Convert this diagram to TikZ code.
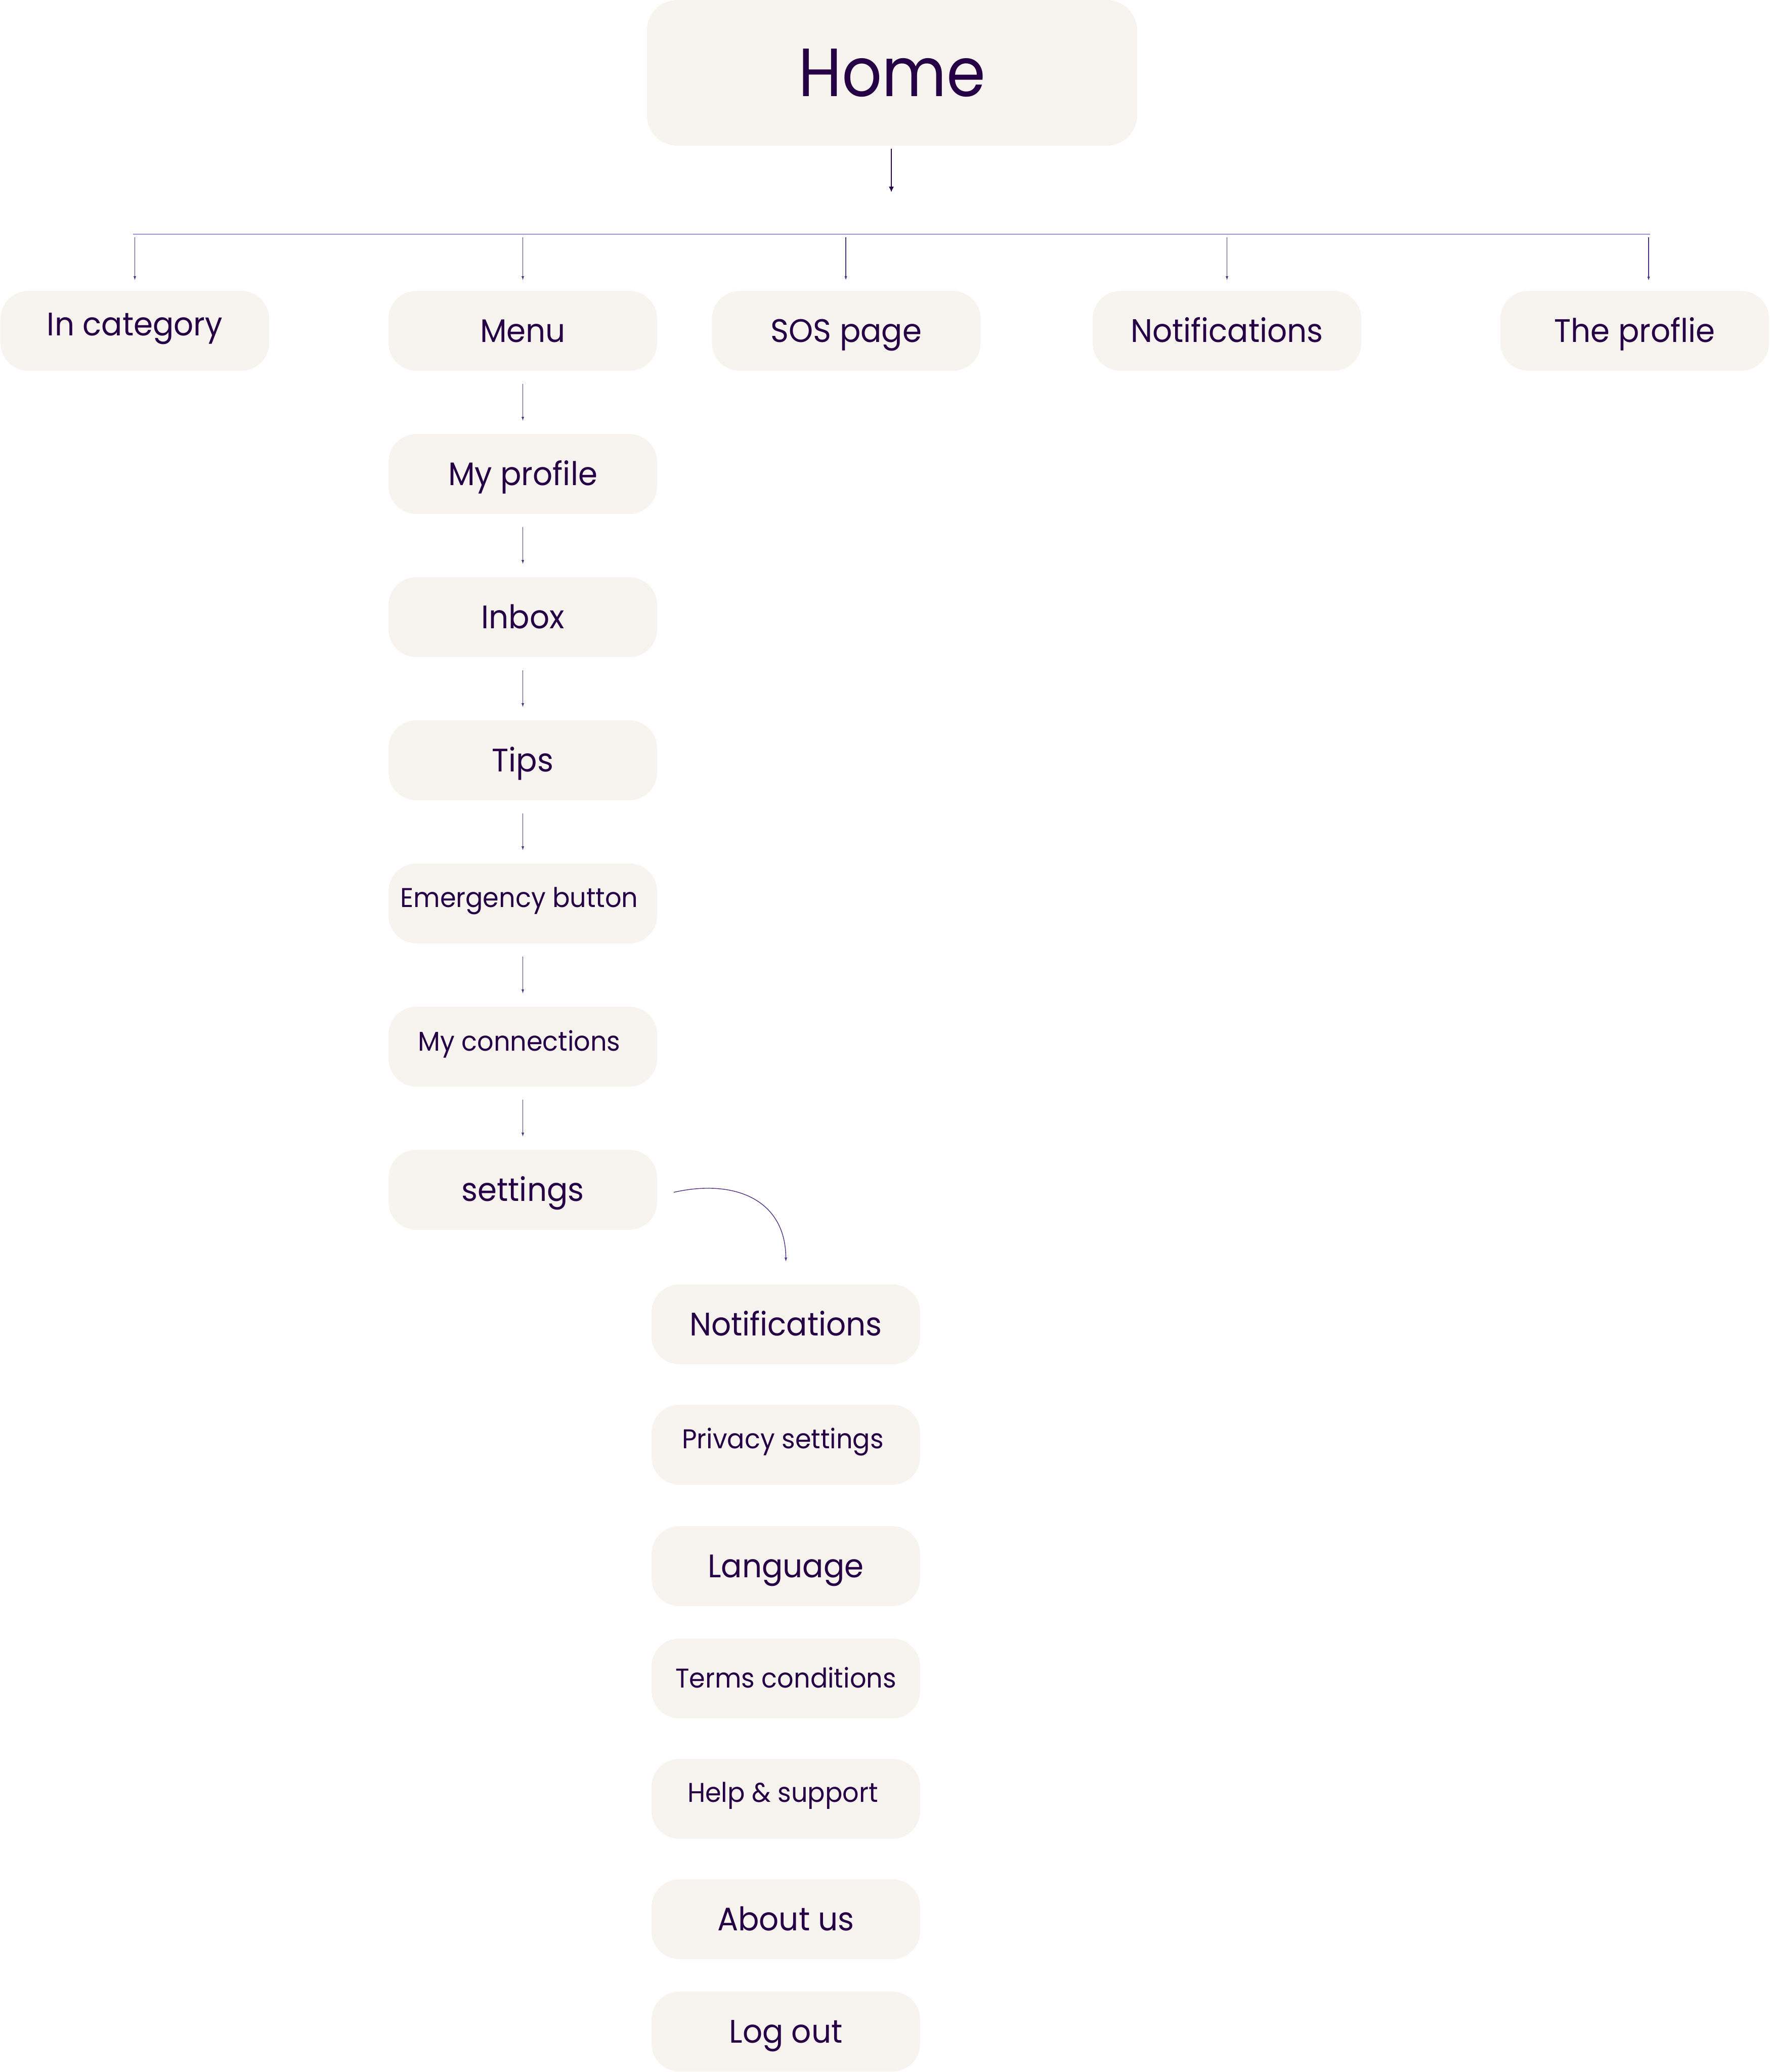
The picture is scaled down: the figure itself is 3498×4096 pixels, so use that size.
\documentclass[tikz,border=0pt]{standalone}
\usepackage{fontspec}
\usetikzlibrary{arrows.meta,calc}
\newfontfamily\pop[FakeStretch=0.95]{Poppins}
\newfontfamily\pophome[FakeStretch=0.92]{Poppins}
\definecolor{ink}{HTML}{250045}
\definecolor{boxfill}{HTML}{F7F4F0}
\definecolor{busline}{HTML}{A390D3}
\definecolor{dropline}{HTML}{4E3184}
\newcommand{\bigtxt}{\pop\fontsize{16.1pt}{19pt}\selectfont}
\newcommand{\smalltxt}{\pop\fontsize{13.4pt}{16pt}\selectfont}
\newcommand{\hometxt}{\pophome\fontsize{33.7pt}{40pt}\selectfont}
\newcommand{\up}[2]{\raisebox{#1}{#2}}
\tikzset{
  box/.style={fill=boxfill, rounded corners=13.75pt, minimum width=132.75pt,
    minimum height=39.5pt, inner sep=0pt, text=ink, font=\bigtxt,
    text height=11.25pt, text depth=0pt},
  smallbox/.style={box, font=\smalltxt, text height=9.4pt},
  homebox/.style={fill=boxfill, rounded corners=15pt, minimum width=242.25pt,
    minimum height=72pt, inner sep=0pt, text=ink, font=\hometxt,
    text height=23.5pt, text depth=0pt},
  drop/.style={draw=dropline, line width=0.35pt, -{Latex[length=2pt,width=1.3pt]}},
  bus/.style={draw=busline, line width=0.55pt},
  homearrow/.style={draw=ink, line width=0.7pt, -{Latex[length=2.8pt,width=2.6pt]}}
}
\begin{document}
\begin{tikzpicture}[x=0.25pt, y=-0.25pt]
\useasboundingbox (0,0) rectangle (3498,4096);

% Home
\node[homebox] (home) at (1763.5,144) {Home};
\coordinate (homeend) at (1762,380);
\draw[homearrow] ($(home.south)+(-1.5,5)$) -- (homeend);

% bus line
\coordinate (busL) at (263,463);
\coordinate (busR) at (3262,463);
\draw[bus] (busL) -- (busR);

% row 2
\node[box] (cat) at (266.5,654) {\up{3.25pt}{In category}};
\node[box] (menu) at (1033.5,654) {Menu};
\node[box] (sos) at (1673,654) {SOS page};
\node[box] (notif) at (2425.5,654) {Notifications};
\node[box] (prof) at (3231.5,654) {The proflie};
\coordinate (profdrop) at (3259,555);

\draw[drop] ($(cat.north |- busL)+(0,6)$) -- ($(cat.north)+(0,-20)$);
\draw[drop] ($(menu.north |- busL)+(0,6)$) -- ($(menu.north)+(0,-20)$);
\draw[drop] ($(sos.north |- busL)+(-1,6)$) -- ($(sos.north)+(-1,-20)$);
\draw[drop] ($(notif.north |- busL)+(0,6)$) -- ($(notif.north)+(0,-20)$);
\draw[drop] ($(profdrop |- busL)+(0,6)$) -- (profdrop);

% menu column
\node[box] (myprof) at (1033.5,937) {My profile};
\node[box] (inbox) at (1033.5,1220) {Inbox};
\node[box] (tips) at (1033.5,1503) {Tips};
\node[smallbox] (emerg) at (1033.5,1786) {\up{2.75pt}{Emergency button}\kern3.5pt};
\node[smallbox] (conn) at (1033.5,2069) {\up{2.5pt}{My connections}\kern3.5pt};
\node[box] (settings) at (1033.5,2352) {settings};

\foreach \a/\b in {menu/myprof, myprof/inbox, inbox/tips, tips/emerg, emerg/conn, conn/settings}
  \draw[drop] ($(\a.south)+(0,25)$) -- ($(\b.north)+(0,-25)$);

% settings column
\node[box] (snotif) at (1553.5,2618) {Notifications};
\node[smallbox] (priv) at (1553.5,2856) {\up{2.75pt}{Privacy settings}\kern3pt};
\node[box] (lang) at (1553.5,3096) {Language};
\node[smallbox] (terms) at (1553.5,3318) {Terms conditions};
\node[smallbox] (help) at (1553.5,3556) {\up{3pt}{Help \& support}\kern3pt};
\node[box] (about) at (1553.5,3794) {About us};
\node[box] (logout) at (1553.5,4016) {Log out};

\draw[drop] ($(settings.east)+(32,5)$) .. controls (1450,2330) and (1553,2370) .. ($(snotif.north)+(0,-44)$);
\end{tikzpicture}
\end{document}
